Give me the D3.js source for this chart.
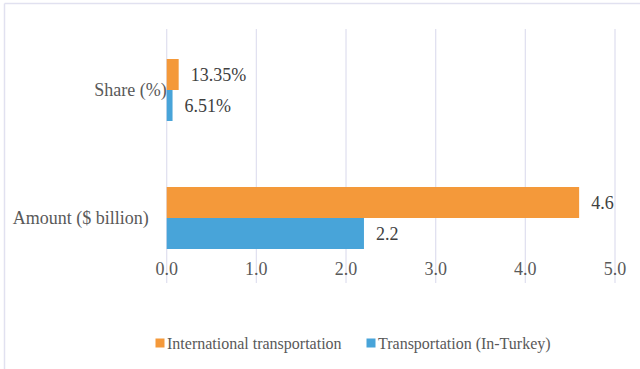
<!DOCTYPE html>
<html>
<head>
<meta charset="utf-8">
<script src="https://cdn.jsdelivr.net/npm/d3@7"></script>
<style>
  html, body { margin: 0; padding: 0; background: #fff; }
  svg { display: block; }
</style>
</head>
<body>
<svg id="chart" width="640" height="369"></svg>
<script>
// Categories (top to bottom) and series
const categories = ["Share (%)", "Amount ($ billion)"];
const seriesNames = ["International transportation", "Transportation (In-Turkey)"];
const internationalValues = [0.1335, 4.6];
const inTurkeyValues = [0.0651, 2.2];
const internationalLabels = ["13.35%", "4.6"];
const inTurkeyLabels = ["6.51%", "2.2"];
const xTicks = [0, 1, 2, 3, 4, 5];
const xTickLabels = ["0.0", "1.0", "2.0", "3.0", "4.0", "5.0"];

const colors = ["#F4993A", "#48A4D9"];
const gridColor = "#E1E1F0";
const axisText = "#595959";
const labelText = "#404040";
const fontFamily = "'Liberation Serif', 'Times New Roman', serif";

const svg = d3.select("#chart").attr("font-family", fontFamily);

// Frame lines (top and left)
svg.append("line").attr("x1", 4.5).attr("x2", 640).attr("y1", 3.5).attr("y2", 3.5)
  .attr("stroke", gridColor).attr("stroke-width", 1.5);
svg.append("line").attr("x1", 4.5).attr("x2", 4.5).attr("y1", 3.5).attr("y2", 369)
  .attr("stroke", gridColor).attr("stroke-width", 1.5);

const x = d3.scaleLinear().domain([0, 5]).range([166.7, 615]);
const y = d3.scaleBand().domain(categories).range([26, 282]).paddingInner(0).paddingOuter(0);
const barH = 31;

// Vertical gridlines
svg.append("g").selectAll("line").data(xTicks).join("line")
  .attr("x1", d => x(d)).attr("x2", d => x(d))
  .attr("y1", 29).attr("y2", 283)
  .attr("stroke", gridColor).attr("stroke-width", 1.3);

// X tick labels
svg.append("g").selectAll("text").data(xTicks).join("text")
  .attr("x", d => x(d)).attr("y", 275)
  .attr("text-anchor", "middle")
  .attr("font-size", 18).attr("fill", axisText)
  .text((d, i) => xTickLabels[i]);

// Category labels
const catOffset = { "Share (%)": 0, "Amount ($ billion)": 18 };
svg.append("g").selectAll("text").data(categories).join("text")
  .attr("x", d => x(0) - catOffset[d])
  .attr("y", d => y(d) + y.bandwidth() / 2 + 6)
  .attr("text-anchor", "end")
  .attr("font-size", 18).attr("fill", axisText)
  .text(d => d);

// Bars: international on top, in-Turkey below, meeting at band centre
const series = [
  { name: seriesNames[0], values: internationalValues, labels: internationalLabels, off: -barH, color: colors[0] },
  { name: seriesNames[1], values: inTurkeyValues, labels: inTurkeyLabels, off: 0, color: colors[1] }
];

series.forEach(s => {
  const rows = categories.map((c, i) => ({ c, v: s.values[i], l: s.labels[i] }));
  const g = svg.append("g");
  g.selectAll("rect").data(rows).join("rect")
    .attr("x", x(0))
    .attr("y", d => y(d.c) + y.bandwidth() / 2 + s.off)
    .attr("width", d => x(d.v) - x(0))
    .attr("height", barH)
    .attr("fill", s.color);
  g.selectAll("text").data(rows).join("text")
    .attr("x", d => x(d.v) + 12)
    .attr("y", d => y(d.c) + y.bandwidth() / 2 + s.off + barH / 2 + 6)
    .attr("font-size", 18).attr("fill", labelText)
    .text(d => d.l);
});

// Legend
const legendItems = [
  { name: seriesNames[0], color: colors[0], x: 155.5 },
  { name: seriesNames[1], color: colors[1], x: 366.5 }
];
const lg = svg.append("g");
legendItems.forEach(it => {
  lg.append("rect").attr("x", it.x).attr("y", 338.5).attr("width", 9).attr("height", 9).attr("fill", it.color);
  lg.append("text").attr("x", it.x + 11.5).attr("y", 348.5)
    .attr("font-size", 16).attr("fill", axisText).text(it.name);
});
</script>
</body>
</html>
